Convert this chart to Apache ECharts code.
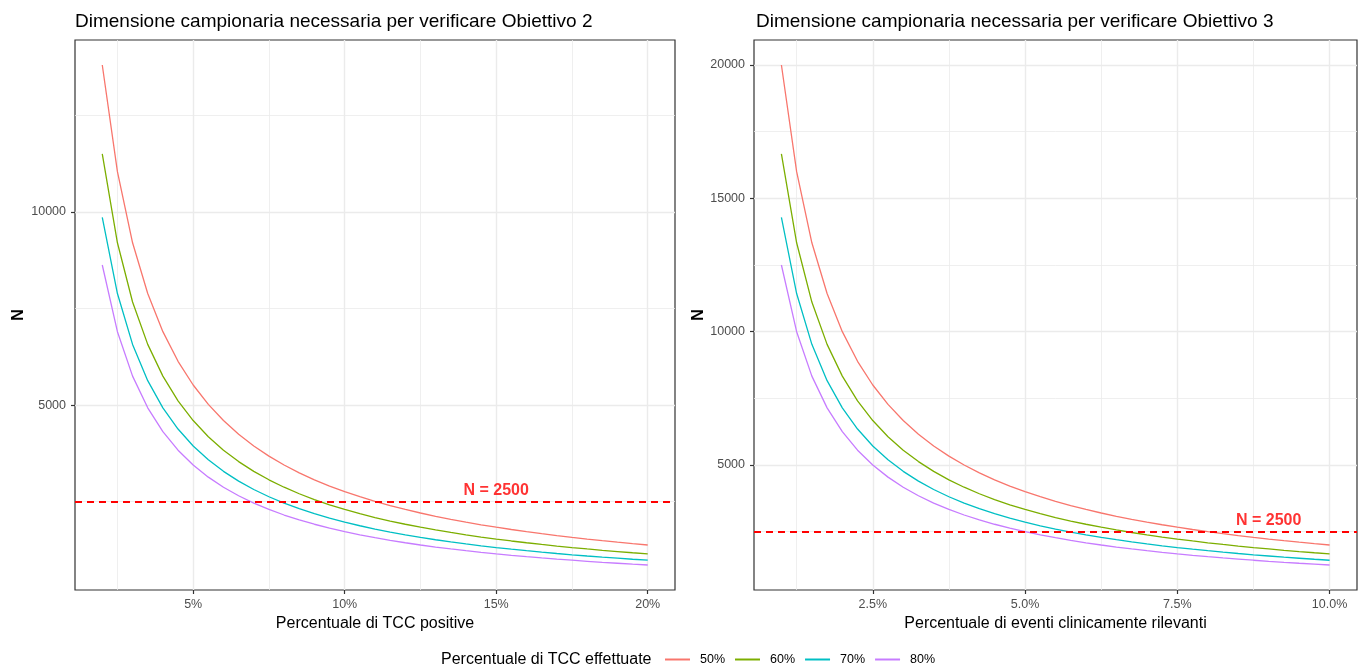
<!DOCTYPE html>
<html>
<head>
<meta charset="utf-8">
<script src="https://cdn.jsdelivr.net/npm/echarts@6/dist/echarts.min.js"></script>
<style>
html,body{margin:0;padding:0;background:#fff;}
#chart{width:1365px;height:668px;}
</style>
</head>
<body>
<div id="chart"></div>
<script>
// ---- Data ----
const legendTitle = 'Percentuale di TCC effettuate';
const seriesNames = ['50%', '60%', '70%', '80%'];
const colors = ['#F8766D', '#7CAE00', '#00BFC4', '#C77CFF'];

// Left panel: Obiettivo 2
const xLeft = [2,2.5,3,3.5,4,4.5,5,5.5,6,6.5,7,7.5,8,8.5,9,9.5,10,10.5,11,11.5,12,12.5,13,13.5,14,14.5,15,15.5,16,16.5,17,17.5,18,18.5,19,19.5,20];
const n50Left = [13800,11040,9200,7886,6900,6133,5520,5018,4600,4246,3943,3680,3450,3247,3067,2905,2760,2629,2509,2400,2300,2208,2123,2044,1971,1903,1840,1781,1725,1673,1624,1577,1533,1492,1453,1415,1380];
const n60Left = [11500,9200,7667,6571,5750,5111,4600,4182,3833,3538,3286,3067,2875,2706,2556,2421,2300,2190,2091,2000,1917,1840,1769,1704,1643,1586,1533,1484,1438,1394,1353,1314,1278,1243,1211,1179,1150];
const n70Left = [9857,7886,6571,5633,4929,4381,3943,3584,3286,3033,2816,2629,2464,2319,2190,2075,1971,1878,1792,1714,1643,1577,1516,1460,1408,1360,1314,1272,1232,1195,1160,1127,1095,1066,1038,1011,986];
const n80Left = [8625,6900,5750,4929,4313,3833,3450,3136,2875,2654,2464,2300,2156,2029,1917,1816,1725,1643,1568,1500,1438,1380,1327,1278,1232,1190,1150,1113,1078,1045,1015,986,958,932,908,885,863];

// Right panel: Obiettivo 3
const xRight = [1,1.25,1.5,1.75,2,2.25,2.5,2.75,3,3.25,3.5,3.75,4,4.25,4.5,4.75,5,5.25,5.5,5.75,6,6.25,6.5,6.75,7,7.25,7.5,7.75,8,8.25,8.5,8.75,9,9.25,9.5,9.75,10];
const n50Right = [20000,16000,13333,11429,10000,8889,8000,7273,6667,6154,5714,5333,5000,4706,4444,4211,4000,3810,3636,3478,3333,3200,3077,2963,2857,2759,2667,2581,2500,2424,2353,2286,2222,2162,2105,2051,2000];
const n60Right = [16667,13333,11111,9524,8333,7407,6667,6061,5556,5128,4762,4444,4167,3922,3704,3509,3333,3175,3030,2899,2778,2667,2564,2469,2381,2299,2222,2151,2083,2020,1961,1905,1852,1802,1754,1709,1667];
const n70Right = [14286,11429,9524,8163,7143,6349,5714,5195,4762,4396,4082,3810,3571,3361,3175,3008,2857,2721,2597,2484,2381,2286,2198,2116,2041,1970,1905,1843,1786,1732,1681,1633,1587,1544,1504,1465,1429];
const n80Right = [12500,10000,8333,7143,6250,5556,5000,4545,4167,3846,3571,3333,3125,2941,2778,2632,2500,2381,2273,2174,2083,2000,1923,1852,1786,1724,1667,1613,1563,1515,1471,1429,1389,1351,1316,1282,1250];

const threshold = 2500;
const thresholdLabel = 'N = 2500';
const labelXLeft = 15;
const labelXRight = 9;

// Axis ticks
const xTicksLeft = [5, 10, 15, 20];
const xMinorLeft = [2.5, 7.5, 12.5, 17.5];
const yTicksLeft = [5000, 10000];
const yMinorLeft = [2500, 7500, 12500];
const xTicksRight = [2.5, 5, 7.5, 10];
const xMinorRight = [1.25, 3.75, 6.25, 8.75];
const yTicksRight = [5000, 10000, 15000, 20000];
const yMinorRight = [2500, 7500, 12500, 17500];

const titles = ['Dimensione campionaria necessaria per verificare Obiettivo 2',
                'Dimensione campionaria necessaria per verificare Obiettivo 3'];
const xNames = ['Percentuale di TCC positive', 'Percentuale di eventi clinicamente rilevanti'];

// ---- Chart ----
const FONT = '"Liberation Sans", Arial, sans-serif';
const zip = (xs, ys) => xs.map((x, i) => [x, ys[i]]);
const leftSets = [n50Left, n60Left, n70Left, n80Left];
const rightSets = [n50Right, n60Right, n70Right, n80Right];

function xAxisDef(gi, min, max, ticks, fmt, name) {
  return {
    type: 'value', gridIndex: gi, min: min, max: max,
    name: name, nameLocation: 'middle', nameGap: 24,
    nameTextStyle: {fontFamily: FONT, fontSize: 16, color: '#000'},
    axisLine: {show: false},
    axisTick: {show: true, length: 4, customValues: ticks, lineStyle: {color: '#333', width: 1.2}},
    axisLabel: {customValues: ticks, formatter: fmt, margin: 8, fontFamily: FONT, fontSize: 12.5, color: '#4D4D4D'},
    splitLine: {show: true, lineStyle: {color: '#EBEBEB', width: 1.4}},
    minorSplitLine: {show: false}
  };
}
function yAxisDef(gi, min, max, ticks, gap) {
  return {
    type: 'value', gridIndex: gi, min: min, max: max,
    name: 'N', nameLocation: 'middle', nameGap: gap, nameRotate: 90,
    nameTextStyle: {fontFamily: FONT, fontSize: 16, fontWeight: 'bold', color: '#000'},
    axisLine: {show: false},
    axisTick: {show: true, length: 4, customValues: ticks, lineStyle: {color: '#333', width: 1.2}},
    axisLabel: {customValues: ticks, formatter: v => String(v), margin: 9, fontFamily: FONT, fontSize: 12.5, color: '#4D4D4D'},
    splitLine: {show: true, lineStyle: {color: '#EBEBEB', width: 1.4}}
  };
}

function minorGridSeries(gi, xs, ys) {
  return {
    type: 'line', xAxisIndex: gi, yAxisIndex: gi, data: [], silent: true, z: 1,
    markLine: {
      silent: true, symbol: 'none', animation: false, z: 1,
      label: {show: false},
      lineStyle: {color: '#EBEBEB', width: 0.8, type: 'solid'},
      data: xs.map(v => ({xAxis: v})).concat(ys.map(v => ({yAxis: v})))
    }
  };
}

const series = [minorGridSeries(0, xMinorLeft, yMinorLeft), minorGridSeries(1, xMinorRight, yMinorRight)];
[[xLeft, leftSets], [xRight, rightSets]].forEach(([xs, sets], gi) => {
  sets.forEach((ys, k) => {
    series.push({
      name: seriesNames[k], type: 'line', xAxisIndex: gi, yAxisIndex: gi,
      data: zip(xs, ys), symbol: 'none', smooth: false, z: 3,
      lineStyle: {color: colors[k], width: 1.3}, itemStyle: {color: colors[k]},
      animation: false
    });
  });
  series.push({
    type: 'scatter', xAxisIndex: gi, yAxisIndex: gi, z: 5, silent: true,
    data: [[gi === 0 ? labelXLeft : labelXRight, threshold]],
    symbolSize: 0,
    label: {show: true, position: 'top', distance: 3, formatter: thresholdLabel,
            fontFamily: FONT, fontSize: 16, fontWeight: 'bold', color: '#FF0000'},
    markLine: {
      silent: true, symbol: 'none', animation: false,
      label: {show: false},
      lineStyle: {color: '#FF0000', width: 2, type: [7, 5]},
      data: [{yAxis: threshold}]
    }
  });
});

const chart = echarts.init(document.getElementById('chart'), null, {renderer: 'canvas'});
chart.setOption({
  animation: false,
  backgroundColor: '#fff',
  title: [
    {text: titles[0], left: 75, top: 12, padding: 0, textStyle: {fontFamily: FONT, fontSize: 19, fontWeight: 'normal', color: '#000'}},
    {text: titles[1], left: 756, top: 12, padding: 0, textStyle: {fontFamily: FONT, fontSize: 19, fontWeight: 'normal', color: '#000'}},
    {text: legendTitle, left: 441, top: 652, padding: 0, textStyle: {fontFamily: FONT, fontSize: 16, fontWeight: 'normal', color: '#000'}}
  ],
  legend: {
    data: seriesNames, left: 665, top: 653, padding: 0, icon: 'rect', itemWidth: 25, itemHeight: 2, itemGap: 10,
    textStyle: {fontFamily: FONT, fontSize: 12.5, color: '#000', padding: [0, 0, 0, 5]}
  },
  grid: [
    {left: 75, top: 40, width: 600, height: 550, show: true, borderColor: '#333', borderWidth: 1.2, backgroundColor: 'transparent'},
    {left: 754, top: 40, width: 603, height: 550, show: true, borderColor: '#333', borderWidth: 1.2, backgroundColor: 'transparent'}
  ],
  xAxis: [
    xAxisDef(0, 1.1, 20.9, xTicksLeft, v => v + '%', xNames[0]),
    xAxisDef(1, 0.55, 10.45, xTicksRight, v => v.toFixed(1) + '%', xNames[1])
  ],
  yAxis: [
    yAxisDef(0, 215.6, 14446.9, yTicksLeft, 48),
    yAxisDef(1, 312.5, 20937.5, yTicksRight, 47)
  ],
  series: series
});
</script>
</body>
</html>
